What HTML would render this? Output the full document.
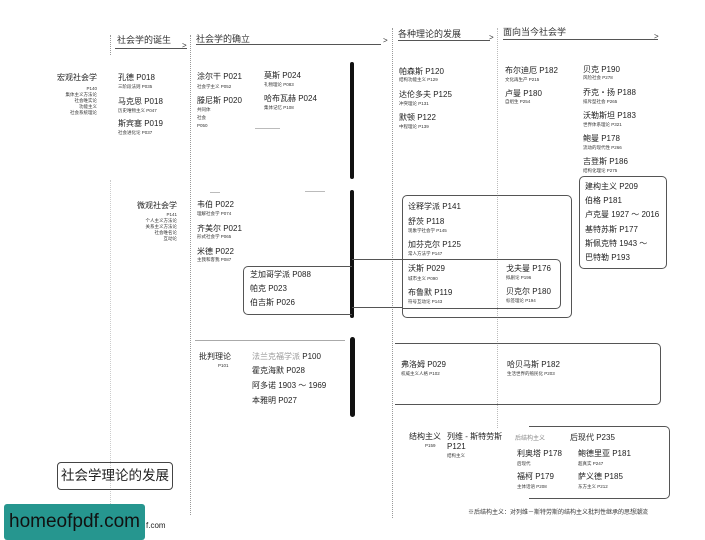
<!DOCTYPE html>
<html><head><meta charset="utf-8">
<style>
body{margin:0;width:705px;height:540px;background:#fff;position:relative;overflow:hidden;font-family:"Liberation Sans","Noto Sans CJK SC",sans-serif;color:#222}
.t{position:absolute;white-space:nowrap;font-size:8px;line-height:9px}
.s{position:absolute;white-space:nowrap;font-size:4.5px;line-height:5px;color:#333}
.h{position:absolute;white-space:nowrap;font-size:9px;color:#333}
.dv{position:absolute;border-left:1px dotted #999;width:0}
.hl{position:absolute;height:0;border-top:1px solid #555}
.bx{position:absolute;border:1px solid #555;border-radius:5px}
.r{text-align:right}
</style></head><body>
<div class="dv" style="left:110px;top:35px;height:20px"></div>
<div class="dv" style="left:110px;top:180px;height:360px;border-color:#ccc"></div>
<div class="dv" style="left:190px;top:35px;height:480px"></div>
<div class="dv" style="left:392px;top:28px;height:490px"></div>
<div class="dv" style="left:497px;top:28px;height:400px;border-color:#bbb"></div>
<div class="h" style="left:117px;top:33px">社会学的诞生</div>
<div class="hl" style="left:115px;top:48px;width:72px"></div><div class="h" style="left:182px;top:41px;font-size:8px">&gt;</div>
<div class="h" style="left:196px;top:32px">社会学的确立</div>
<div class="hl" style="left:196px;top:44px;width:185px"></div><div class="h" style="left:383px;top:36px;font-size:8px">&gt;</div>
<div class="h" style="left:398px;top:27px">各种理论的发展</div>
<div class="hl" style="left:398px;top:40px;width:92px"></div><div class="h" style="left:489px;top:33px;font-size:8px">&gt;</div>
<div class="h" style="left:503px;top:25px">面向当今社会学</div>
<div class="hl" style="left:503px;top:39px;width:155px"></div><div class="h" style="left:654px;top:32px;font-size:8px">&gt;</div>
<div style="position:absolute;left:350px;top:62px;width:4px;height:117px;background:#111;border-radius:2px"></div>
<div style="position:absolute;left:350px;top:190px;width:4px;height:128px;background:#111;border-radius:2px"></div>
<div style="position:absolute;left:350px;top:337px;width:5px;height:80px;background:#111;border-radius:3px"></div>
<div class="hl" style="left:352px;top:259px;width:50px"></div>
<div class="hl" style="left:352px;top:307px;width:50px"></div>
<div class="hl" style="left:195px;top:340px;width:150px;border-color:#aaa"></div>
<div class="hl" style="left:255px;top:128px;width:25px;border-color:#bbb"></div>
<div class="hl" style="left:210px;top:192px;width:10px;border-color:#bbb"></div>
<div class="hl" style="left:305px;top:191px;width:20px;border-color:#bbb"></div>
<div class="t r" style="left:40px;top:73px;width:57px">宏观社会学</div>
<div class="s r" style="left:20px;top:86px;width:77px">P140</div>
<div class="s r" style="left:20px;top:92px;width:77px">集体主义方法论</div>
<div class="s r" style="left:20px;top:98px;width:77px">社会唯实论</div>
<div class="s r" style="left:20px;top:104px;width:77px">功能主义</div>
<div class="s r" style="left:20px;top:110px;width:77px">社会系统理论</div>
<div class="t" style="left:118px;top:73px">孔德 P018</div><div class="s" style="left:118px;top:84px">三阶段法则 P035</div>
<div class="t" style="left:118px;top:97px">马克思 P018</div><div class="s" style="left:118px;top:108px">历史唯物主义 P047</div>
<div class="t" style="left:118px;top:119px">斯宾塞 P019</div><div class="s" style="left:118px;top:130px">社会进化论 P037</div>
<div class="t" style="left:197px;top:72px">涂尔干 P021</div><div class="s" style="left:197px;top:84px">社会学主义 P052</div>
<div class="t" style="left:197px;top:96px">滕尼斯 P020</div><div class="s" style="left:197px;top:107px">共同体</div><div class="s" style="left:197px;top:115px">社会</div><div class="s" style="left:197px;top:123px">P050</div>
<div class="t" style="left:264px;top:71px">莫斯 P024</div><div class="s" style="left:264px;top:82px">礼物理论 P083</div>
<div class="t" style="left:264px;top:94px">哈布瓦赫 P024</div><div class="s" style="left:264px;top:105px">集体记忆 P108</div>
<div class="t" style="left:399px;top:67px">帕森斯 P120</div><div class="s" style="left:399px;top:77px">结构功能主义 P129</div>
<div class="t" style="left:399px;top:90px">达伦多夫 P125</div><div class="s" style="left:399px;top:101px">冲突理论 P131</div>
<div class="t" style="left:399px;top:113px">默顿 P122</div><div class="s" style="left:399px;top:124px">中程理论 P139</div>
<div class="t" style="left:505px;top:66px">布尔迪厄 P182</div><div class="s" style="left:505px;top:77px">文化再生产 P215</div>
<div class="t" style="left:505px;top:89px">卢曼 P180</div><div class="s" style="left:505px;top:99px">自组生 P254</div>
<div class="t" style="left:583px;top:65px">贝克 P190</div><div class="s" style="left:583px;top:75px">风险社会 P278</div>
<div class="t" style="left:583px;top:88px">乔克・扬 P188</div><div class="s" style="left:583px;top:99px">排斥型社会 P265</div>
<div class="t" style="left:583px;top:111px">沃勒斯坦 P183</div><div class="s" style="left:583px;top:122px">世界体系理论 P321</div>
<div class="t" style="left:583px;top:134px">鲍曼 P178</div><div class="s" style="left:583px;top:145px">流动的现代性 P266</div>
<div class="t" style="left:583px;top:157px">吉登斯 P186</div><div class="s" style="left:583px;top:168px">结构化理论 P275</div>
<div class="bx" style="left:579px;top:176px;width:86px;height:91px"></div>
<div class="t" style="left:585px;top:182px">建构主义 P209</div>
<div class="t" style="left:585px;top:196px">伯格 P181</div>
<div class="t" style="left:585px;top:210px">卢克曼 1927 ～ 2016</div>
<div class="t" style="left:585px;top:225px">基特苏斯 P177</div>
<div class="t" style="left:585px;top:239px">斯佩克特 1943 ～</div>
<div class="t" style="left:585px;top:253px">巴特勒 P193</div>
<div class="t r" style="left:120px;top:201px;width:57px">微观社会学</div>
<div class="s r" style="left:100px;top:212px;width:77px">P141</div>
<div class="s r" style="left:100px;top:218px;width:77px">个人主义方法论</div>
<div class="s r" style="left:100px;top:224px;width:77px">关系主义方法论</div>
<div class="s r" style="left:100px;top:230px;width:77px">社会唯名论</div>
<div class="s r" style="left:100px;top:236px;width:77px">互动论</div>
<div class="t" style="left:197px;top:200px">韦伯 P022</div><div class="s" style="left:197px;top:211px">理解社会学 P074</div>
<div class="t" style="left:197px;top:224px">齐美尔 P021</div><div class="s" style="left:197px;top:234px">形式社会学 P065</div>
<div class="t" style="left:197px;top:247px">米德 P022</div><div class="s" style="left:197px;top:257px">主我和客我 P087</div>
<div class="bx" style="left:243px;top:266px;width:108px;height:47px;border-right:none;border-radius:5px 0 0 5px"></div>
<div class="t" style="left:250px;top:270px">芝加哥学派 P088</div>
<div class="t" style="left:250px;top:284px">帕克 P023</div>
<div class="t" style="left:250px;top:298px">伯吉斯 P026</div>
<div class="bx" style="left:402px;top:195px;width:168px;height:121px"></div>
<div class="bx" style="left:402px;top:259px;width:158px;height:48px;border-left:none;border-radius:0 5px 5px 0"></div>
<div class="t" style="left:408px;top:202px">诠释学派 P141</div>
<div class="t" style="left:408px;top:217px">舒茨 P118</div><div class="s" style="left:408px;top:228px">现象学社会学 P145</div>
<div class="t" style="left:408px;top:240px">加芬克尔 P125</div><div class="s" style="left:408px;top:251px">常人方法学 P147</div>
<div class="t" style="left:408px;top:264px">沃斯 P029</div><div class="s" style="left:408px;top:276px">城市主义 P090</div>
<div class="t" style="left:408px;top:288px">布鲁默 P119</div><div class="s" style="left:408px;top:299px">符号互动论 P143</div>
<div class="t" style="left:506px;top:264px">戈夫曼 P176</div><div class="s" style="left:506px;top:275px">拟剧论 P196</div>
<div class="t" style="left:506px;top:287px">贝克尔 P180</div><div class="s" style="left:506px;top:298px">标签理论 P194</div>
<div class="t" style="left:199px;top:352px">批判理论</div><div class="s" style="left:218px;top:363px">P101</div>
<div class="t" style="left:252px;top:352px;color:#999">法兰克福学派 <span style="color:#222">P100</span></div>
<div class="t" style="left:252px;top:366px">霍克海默 P028</div>
<div class="t" style="left:252px;top:381px">阿多诺 1903 ～ 1969</div>
<div class="t" style="left:252px;top:396px">本雅明 P027</div>
<div class="bx" style="left:395px;top:343px;width:265px;height:60px;border-left:none;border-radius:0 5px 5px 0"></div>
<div class="t" style="left:401px;top:360px">弗洛姆 P029</div><div class="s" style="left:401px;top:371px">权威主义人格 P102</div>
<div class="t" style="left:507px;top:360px">哈贝马斯 P182</div><div class="s" style="left:507px;top:371px">生活世界的殖民化 P203</div>
<div class="t" style="left:409px;top:432px">结构主义</div><div class="s" style="left:425px;top:443px">P159</div>
<div class="t" style="left:447px;top:432px">列维 - 斯特劳斯</div><div class="t" style="left:447px;top:442px">P121</div><div class="s" style="left:447px;top:453px">结构主义</div>
<div class="bx" style="left:529px;top:426px;width:140px;height:71px;border-left:none;border-radius:0 5px 5px 0"></div>
<div class="t" style="left:515px;top:433px"><span style="color:#888;font-size:6px">后结构主义</span></div>
<div class="t" style="left:570px;top:433px">后现代 P235</div>
<div class="t" style="left:517px;top:449px">利奥塔 P178</div><div class="s" style="left:517px;top:461px">后现代</div>
<div class="t" style="left:578px;top:449px">鲍德里亚 P181</div><div class="s" style="left:578px;top:461px">超真实 P247</div>
<div class="t" style="left:517px;top:472px">福柯 P179</div><div class="s" style="left:517px;top:484px">主体话语 P208</div>
<div class="t" style="left:578px;top:472px">萨义德 P185</div><div class="s" style="left:578px;top:484px">东方主义 P212</div>
<div class="s" style="left:468px;top:510px;font-size:6px;line-height:7px">※后结构主义：对列维－斯特劳斯的结构主义批判性继承的思想潮流</div>
<div style="position:absolute;left:57px;top:462px;width:114px;height:26px;border:1px solid #444;border-radius:4px;font-size:13.5px;line-height:26px;text-align:center">社会学理论的发展</div>
<div class="t" style="left:146px;top:521px;font-size:8px">f.com</div>
<div style="position:absolute;left:4px;top:504px;width:141px;height:36px;background:#26968f;border-radius:3px;font-size:19px;line-height:36px;text-align:center;color:#111">homeofpdf.com</div>
</body></html>
